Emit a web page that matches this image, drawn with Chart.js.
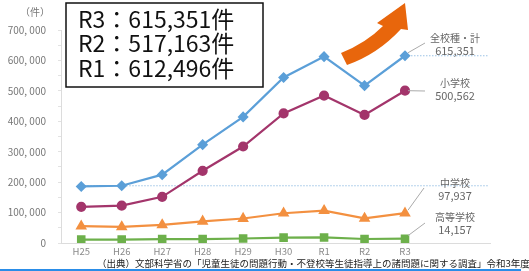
<!DOCTYPE html>
<html>
<head>
<meta charset="utf-8">
<script src="https://cdn.jsdelivr.net/npm/chart.js@4"></script>
<style>
  body { margin: 0; background: #fff; }
  canvas { display: block; }
</style>
</head>
<body>
<canvas id="myChart" width="529" height="271"></canvas>
<script>
// years on the x axis
const years = ["H25", "H26", "H27", "H28", "H29", "H30", "R1", "R2", "R3"];

// 認知件数 by school type
const totalCounts = [185803, 188072, 224540, 323143, 414378, 543933, 612496, 517163, 615351];
const elementaryCounts = [118748, 122734, 151692, 237256, 317121, 425844, 484545, 420897, 500562];
const middleCounts = [55248, 52971, 59502, 71309, 80424, 97704, 106524, 80877, 97937];
const highCounts = [11039, 11404, 12664, 12874, 14789, 17709, 18352, 13126, 14157];

const seriesNames = ["全校種・計", "小学校", "中学校", "高等学校"];
const boxLines = ["R3：615,351件", "R2：517,163件", "R1：612,496件"];
const sourceNote = "（出典）文部科学省の「児童生徒の問題行動・不登校等生徒指導上の諸問題に関する調査」令和3年度";

const FONT = '"Noto Sans CJK JP", "Noto Sans", sans-serif';

function toPoints(arr) {
  return arr.map((v, i) => ({ x: i, y: v }));
}

function fmt(v) {
  return v.toLocaleString("en-US");
}

// extra drawing: box, arrow, dotted guides, end labels, footer
const decorations = {
  id: "decorations",
  beforeDatasetsDraw(chart) {
    const ctx = chart.ctx;
    const xs = chart.scales.x, ys = chart.scales.y;
    ctx.save();
    ctx.strokeStyle = "#9cc3e6";
    ctx.lineWidth = 1;
    ctx.setLineDash([1.5, 1.5]);
    let y1 = ys.getPixelForValue(totalCounts[8]);
    ctx.beginPath();
    ctx.moveTo(xs.getPixelForValue(8), y1);
    ctx.lineTo(488, y1);
    ctx.stroke();
    let y2 = ys.getPixelForValue(totalCounts[1]);
    ctx.beginPath();
    ctx.moveTo(xs.getPixelForValue(0), y2);
    ctx.lineTo(488, y2);
    ctx.stroke();
    ctx.restore();
  },
  afterDraw(chart) {
    const ctx = chart.ctx;
    const xs = chart.scales.x, ys = chart.scales.y;
    ctx.save();

    // unit
    ctx.fillStyle = "#777";
    ctx.font = "10px " + FONT;
    ctx.textAlign = "right";
    ctx.textBaseline = "middle";
    ctx.fillText("（件）", 50, 12);

    // box with recent totals
    ctx.fillStyle = "#fff";
    ctx.fillRect(66, 3, 197, 84);
    ctx.strokeStyle = "#111";
    ctx.lineWidth = 1.5;
    ctx.strokeRect(66, 3, 197, 84);
    ctx.fillStyle = "#111";
    ctx.font = "23px " + FONT;
    ctx.textAlign = "left";
    boxLines.forEach((t, i) => ctx.fillText(t, 78, 19 + i * 24.5));

    // orange arrow
    ctx.fillStyle = "#e8660c";
    ctx.beginPath();
    ctx.moveTo(341, 53);
    ctx.quadraticCurveTo(366, 43, 383, 26);
    ctx.lineTo(377, 23);
    ctx.lineTo(405, 3);
    ctx.lineTo(408, 30);
    ctx.lineTo(401, 29);
    ctx.quadraticCurveTo(378, 54, 347, 65);
    ctx.closePath();
    ctx.fill();

    // leader lines + end labels
    const xEnd = xs.getPixelForValue(8);
    const ends = [totalCounts[8], elementaryCounts[8], middleCounts[8], highCounts[8]];
    const labelY = [38, 83, 183, 217];
    const leaders = [[425, 43], [425, 91], [424, 188], [425, 223]];
    ctx.strokeStyle = "#aaa";
    ctx.lineWidth = 1;
    leaders.forEach((p, i) => {
      ctx.beginPath();
      ctx.moveTo(xEnd + 3, ys.getPixelForValue(ends[i]) - (i === 1 ? 0 : 3));
      ctx.lineTo(p[0], p[1]);
      ctx.stroke();
    });
    ctx.fillStyle = "#666";
    ctx.textAlign = "center";
    seriesNames.forEach((n, i) => {
      ctx.font = "10px " + FONT;
      ctx.fillText(n, 455, labelY[i]);
      ctx.font = "11px " + FONT;
      ctx.fillText(fmt(ends[i]), 455, labelY[i] + 13);
    });

    // source note
    ctx.fillStyle = "#222";
    ctx.font = "9.5px " + FONT;
    ctx.textAlign = "left";
    ctx.fillText(sourceNote, 97, 263);

    // bottom rule
    ctx.strokeStyle = "#2a8de8";
    ctx.lineWidth = 2;
    ctx.beginPath();
    ctx.moveTo(0, 270);
    ctx.lineTo(521, 270);
    ctx.stroke();
    ctx.restore();
  }
};

const ctx = document.getElementById("myChart").getContext("2d");

const chartConfig = {
  type: "line",
  data: {
    datasets: [
      {
        label: seriesNames[0],
        data: toPoints(totalCounts),
        borderColor: "#5b9fd8",
        backgroundColor: "#5b9fd8",
        pointStyle: "rectRot",
        pointRadius: 4,
        borderWidth: 2.2
      },
      {
        label: seriesNames[1],
        data: toPoints(elementaryCounts),
        borderColor: "#a3356b",
        backgroundColor: "#a3356b",
        pointStyle: "circle",
        pointRadius: 4,
        borderWidth: 2.2
      },
      {
        label: seriesNames[2],
        data: toPoints(middleCounts),
        borderColor: "#f39040",
        backgroundColor: "#f39040",
        pointStyle: "triangle",
        pointRadius: 4.5,
        borderWidth: 2.2
      },
      {
        label: seriesNames[3],
        data: toPoints(highCounts),
        borderColor: "#6db04b",
        backgroundColor: "#6db04b",
        pointStyle: "rect",
        pointRadius: 4.5,
        borderWidth: 2.2
      }
    ]
  },
  options: {
    responsive: false,
    animation: false,
    layout: { padding: { top: 30, right: 39, bottom: 0, left: 0 } },
    scales: {
      x: {
        type: "linear",
        min: -0.5,
        max: 10.1,
        afterBuildTicks: scale => { scale.ticks = years.map((_, i) => ({ value: i })); },
        afterFit: scale => { scale.height = 28; },
        grid: { display: false, drawTicks: false },
        border: { display: true, color: "#dcdcdc" },
        ticks: {
          padding: 3,
          color: "#8a8a8a",
          font: { family: FONT, size: 9.5 },
          callback: v => years[v]
        }
      },
      y: {
        min: 0,
        max: 700000,
        afterFit: scale => { scale.width = 61; },
        grid: { drawOnChartArea: false, tickLength: 3, color: "#e2e2e2" },
        border: { display: true, color: "#dcdcdc" },
        ticks: {
          stepSize: 50000,
          padding: 12,
          color: "#777",
          font: { family: FONT, size: 10 },
          callback: v => (v % 100000 === 0 ? (v === 0 ? "0" : fmt(v).replace(",", ", ")) : "")
        }
      }
    },
    plugins: {
      legend: { display: false },
      tooltip: { enabled: false }
    }
  },
  plugins: [decorations]
};

new Chart(ctx, chartConfig);
</script>
</body>
</html>
